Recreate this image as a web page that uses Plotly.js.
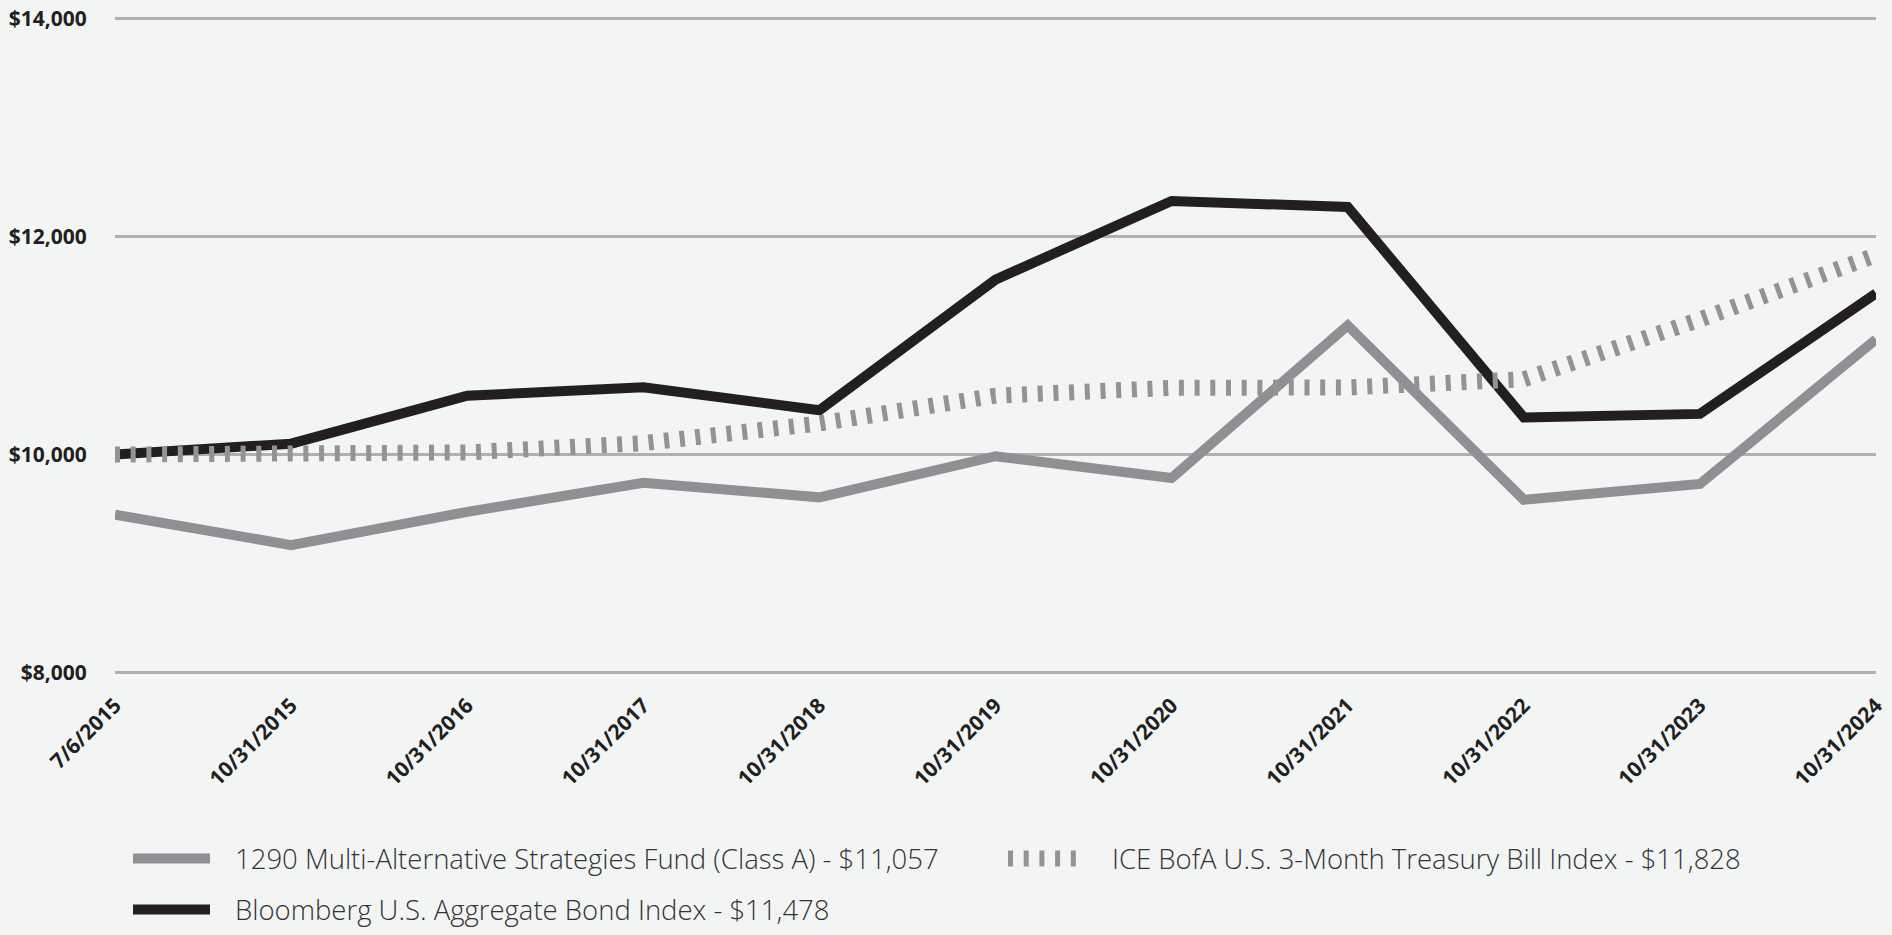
<!DOCTYPE html>
<html>
<head>
<meta charset="utf-8">
<script src="https://cdn.plot.ly/plotly-3.0.1.min.js"></script>
<style>
  html, body { margin: 0; padding: 0; background: #f3f5f4; }
  #chart { width: 1892px; height: 935px; }
</style>
</head>
<body>
<div id="chart"></div>
<script>
// ---- Data ----
var dates = ["7/6/2015", "10/31/2015", "10/31/2016", "10/31/2017", "10/31/2018", "10/31/2019",
             "10/31/2020", "10/31/2021", "10/31/2022", "10/31/2023", "10/31/2024"];
var fundValues = [9450, 9170, 9475, 9741, 9608, 9985, 9786, 11183, 9586, 9730, 11057];
var bondValues = [10000, 10100, 10540, 10617, 10407, 11604, 12325, 12270, 10340, 10373, 11478];
var tbillValues = [10000, 10003, 10020, 10105, 10285, 10540, 10612, 10615, 10690, 11238, 11828];
var yTickVals = [8000, 10000, 12000, 14000];
var yTickText = ["$8,000", "$10,000", "$12,000", "$14,000"];
var seriesNames = [
  "1290 Multi-Alternative Strategies Fund (Class A) - $11,057",
  "Bloomberg U.S. Aggregate Bond Index - $11,478",
  "ICE BofA U.S. 3-Month Treasury Bill Index - $11,828"
];

var fundColor = "#8f9093";
var bondColor = "#231f20";
var tbillColor = "#939393";

var traces = [
  { x: dates, y: fundValues, name: seriesNames[0], type: "scatter", mode: "lines",
    line: { color: fundColor, width: 10 }, showlegend: false, hoverinfo: "x+y" },
  { x: dates, y: bondValues, name: seriesNames[1], type: "scatter", mode: "lines",
    line: { color: bondColor, width: 10 }, showlegend: false, hoverinfo: "x+y" },
  { x: dates, y: tbillValues, name: seriesNames[2], type: "scatter", mode: "lines",
    line: { color: tbillColor, width: 16, dash: "5px,10.7px" }, showlegend: false, hoverinfo: "x+y" }
];

// value range padded slightly so the edge gridlines are drawn
var yMin = 7970, yMax = 14030;
// px positions: $14,000 at y=18, $8,000 at y=673; plot x from 115 to 1876
var pxPerUnit = (673 - 18) / 6000;
var T = 18 - (yMax - 14000) * pxPerUnit;
var B = 673 + (8000 - yMin) * pxPerUnit;
var H = B - T;
var L = 115, W = 1761;
function px2x(p) { return (p - L) / W; }
function px2y(p) { return (B - p) / H; }

var legendRows = [859, 910];
var shapes = [
  { type: "line", xref: "paper", yref: "paper", x0: px2x(133), x1: px2x(210), y0: px2y(legendRows[0]), y1: px2y(legendRows[0]),
    line: { color: fundColor, width: 10 } },
  { type: "line", xref: "paper", yref: "paper", x0: px2x(133), x1: px2x(210), y0: px2y(legendRows[1]), y1: px2y(legendRows[1]),
    line: { color: bondColor, width: 10 } },
  { type: "line", xref: "paper", yref: "paper", x0: px2x(1008), x1: px2x(1080), y0: px2y(legendRows[0]), y1: px2y(legendRows[0]),
    line: { color: tbillColor, width: 16, dash: "5px,10.7px" } }
];
var legFont = { family: "Open Sans, sans-serif", size: 27.5, weight: 300, color: "#333333" };
var annotations = [
  { xref: "paper", yref: "paper", x: px2x(233), y: px2y(legendRows[0]), xanchor: "left", yanchor: "middle",
    text: seriesNames[0], showarrow: false, font: legFont },
  { xref: "paper", yref: "paper", x: px2x(233), y: px2y(legendRows[1]), xanchor: "left", yanchor: "middle",
    text: seriesNames[1], showarrow: false, font: legFont },
  { xref: "paper", yref: "paper", x: px2x(1110), y: px2y(legendRows[0]), xanchor: "left", yanchor: "middle",
    text: seriesNames[2], showarrow: false, font: legFont }
];

var tickFont = { family: "Open Sans, sans-serif", size: 21, weight: "bold", color: "#231f20" };

var layout = {
  width: 1892, height: 935,
  margin: { l: L, r: 1892 - L - W, t: T, b: 935 - B, pad: 0 },
  paper_bgcolor: "#f3f5f4",
  plot_bgcolor: "#f3f5f4",
  showlegend: false,
  font: { family: "Open Sans, sans-serif", color: "#231f20" },
  xaxis: {
    type: "category",
    range: [0, dates.length - 1],
    showgrid: false, zeroline: false, showline: false,
    tickangle: -45,
    ticks: "outside", ticklen: 8, tickcolor: "rgba(0,0,0,0)",
    tickfont: tickFont,
    fixedrange: true
  },
  yaxis: {
    range: [yMin, yMax],
    tickmode: "array",
    tickvals: yTickVals,
    ticktext: yTickText,
    showgrid: true, gridcolor: "#b0b0b0", gridwidth: 2.5,
    zeroline: false, showline: false,
    ticks: "outside", ticklen: 23, tickcolor: "rgba(0,0,0,0)",
    tickfont: tickFont,
    fixedrange: true
  },
  shapes: shapes,
  annotations: annotations
};

Plotly.newPlot("chart", traces, layout, { displayModeBar: false, staticPlot: true });
</script>
</body>
</html>
